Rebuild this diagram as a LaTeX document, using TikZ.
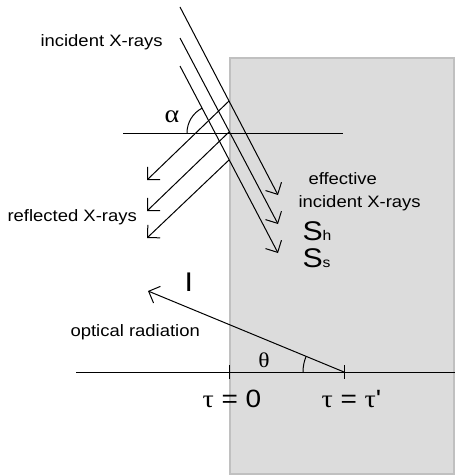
\documentclass[tikz,border=0pt]{standalone}
\usepackage{fontspec}
\setmainfont[FakeStretch=1.12]{Liberation Sans}
\newfontfamily\grk[FakeStretch=1.12]{Liberation Serif}
\usetikzlibrary{arrows.meta}
\definecolor{slab}{HTML}{DCDCDC}
\definecolor{slabedge}{HTML}{C0C0C0}
\begin{document}
\begin{tikzpicture}[x=1pt,y=-1pt,line width=1pt,
  ray/.style={-{Straight Barb[length=9pt,width=18pt]}},
  lab/.style={inner sep=0pt,anchor=base west,font=\fontsize{16.5}{18}\selectfont},
  big/.style={inner sep=0pt,anchor=base west,font=\fontsize{27}{30}\selectfont},
  grklab/.style={inner sep=0pt,anchor=base,font=\fontsize{25}{27}\selectfont\grk},
  taulab/.style={inner sep=0pt,anchor=base west,font=\fontsize{25}{27}\selectfont}]
\useasboundingbox (0,0) rectangle (455,476);
% sample
\draw[fill=slab,draw=slabedge,line width=2pt] (230,58) rectangle (454,474);
% coordinates
\coordinate (i1s) at (180,7);   \coordinate (i1e) at (278,195);
\coordinate (i2s) at (180,38);  \coordinate (i2e) at (278,224);
\coordinate (i3s) at (180,66);  \coordinate (i3e) at (278,253);
\coordinate (r1s) at (229,101); \coordinate (r1e) at (147,180);
\coordinate (r2s) at (229,132); \coordinate (r2e) at (147,211);
\coordinate (r3s) at (229,160); \coordinate (r3e) at (147,238);
\coordinate (hL) at (123,133);  \coordinate (hR) at (343,133);
\coordinate (bL) at (76,372);   \coordinate (bR) at (455,372);
\coordinate (t0) at (229,372);  \coordinate (t1) at (344,372);
\coordinate (Itip) at (148,291);
% lines
\draw (hL) -- (hR);
\draw (bL) -- (bR);
\draw[ray] (i1s) -- (i1e);
\draw[ray] (i2s) -- (i2e);
\draw[ray] (i3s) -- (i3e);
\draw[ray] (r1s) -- (r1e);
\draw[ray] (r2s) -- (r2e);
\draw[ray] (r3s) -- (r3e);
\draw[ray] (t1) -- (Itip);
\draw (229,365) -- (229,379);
\draw (344,365) -- (344,379);
% angle arcs
\draw (187,133) arc[start angle=180,end angle=242.5,radius=28];
\draw (303,372) arc[start angle=180,end angle=202.5,radius=41];
% labels
\node[lab] (inc) at (40,47) {incident X-rays};
\node[lab] (refl) at (7,221) {reflected X-rays};
\node[lab] (eff1) at (308,184) {effective};
\node[lab] (eff2) at (298,207) {incident X-rays};
\node[big] (sh) at (302,240) {S{\fontsize{14}{14}\selectfont h}};
\node[big] (ss) at (302,267) {S{\fontsize{14}{14}\selectfont s}};
\node[big] (ilab) at (184,291) {I};
\node[lab] (opt) at (70,336) {optical radiation};
\node[grklab] (alpha) at (172,122) {α};
\node[grklab,font=\fontsize{21}{23}\selectfont\grk] (theta) at (264,367) {θ};
\node[taulab] (tau0) at (202,407) {{\grk τ} = 0};
\node[taulab] (tau1) at (321,407) {{\grk τ} = {\grk τ}\textquotesingle};
\end{tikzpicture}
\end{document}
